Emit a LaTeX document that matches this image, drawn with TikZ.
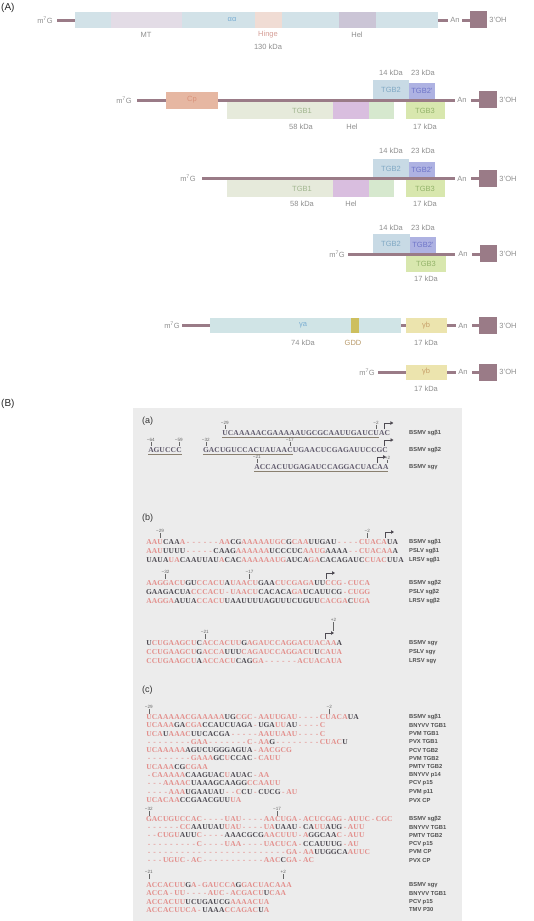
\documentclass[tikz,border=0pt]{standalone}
\usepackage{fontspec}
\setmainfont{Liberation Sans}
\newfontfamily\seqfont{Liberation Serif}
\usetikzlibrary{arrows.meta}
\definecolor{lineC}{HTML}{9A7B87}
\definecolor{barC}{HTML}{D2E2E8}
\definecolor{mtC}{HTML}{E3DCE6}
\definecolor{hingeC}{HTML}{F0DCD4}
\definecolor{helA}{HTML}{CBC5D6}
\definecolor{cpC}{HTML}{E6B7A2}
\definecolor{tgbaC}{HTML}{E6EADB}
\definecolor{helB}{HTML}{D9BEDF}
\definecolor{tgbgC}{HTML}{D6E8CE}
\definecolor{tgbbC}{HTML}{C8DAE5}
\definecolor{tgbpC}{HTML}{AEB2E2}
\definecolor{tgbcC}{HTML}{D8E7AE}
\definecolor{gaC}{HTML}{D0E4E6}
\definecolor{gddC}{HTML}{CDBF5E}
\definecolor{gbC}{HTML}{ECE4AE}
\definecolor{txtA}{HTML}{8E8E8E}
\definecolor{hingeT}{HTML}{D49C94}
\definecolor{aaT}{HTML}{7AAED3}
\definecolor{cpT}{HTML}{D9927A}
\definecolor{tgbbT}{HTML}{7FA8C4}
\definecolor{tgbpT}{HTML}{6E74C8}
\definecolor{tgbaT}{HTML}{A0B58E}
\definecolor{tgbcT}{HTML}{93B36A}
\definecolor{gbT}{HTML}{C8A06A}
\definecolor{gddT}{HTML}{B89A6A}
\definecolor{panelC}{HTML}{ECECEC}
\definecolor{pk}{HTML}{E38F8C}
\definecolor{sqd}{HTML}{4E4A52}
\definecolor{sqa}{HTML}{605A6C}
\definecolor{nmC}{HTML}{505050}
\definecolor{tkC}{HTML}{666666}
\definecolor{ulC}{HTML}{8A8070}
\newlength\cw
\setlength\cw{5.6pt}
\def\dkc{sqd}
\def\sqcolr#1{\ifx-#1\textcolor{pk}{-}\else\ifnum`#1>`Z\relax\textcolor{pk}{\uppercase{#1}}\else\textcolor{\dkc}{#1}\fi\fi}
\def\sqloop#1{\ifx\relax#1\else\makebox[\cw][c]{\sqcolr{#1}}\expandafter\sqloop\fi}
\newcommand\seqtext[1]{{\seqfont\bfseries\fontsize{7.5}{8}\selectfont\sqloop#1\relax}}
\newcommand\tkmark[5]{% name, x, ylabel, text, line length
  \node[tkl] (#1) at (#2,#3) {#4};
  \draw[tkline] (#1.south) -- ++(0,#5);}
\newcommand\bentarrow[3]{% name, x, ytext
  \coordinate (#1a) at (#2,#3-4);
  \coordinate (#1b) at (#2,#3-10);
  \coordinate (#1c) at (#2+9,#3-10);
  \draw[barrow] (#1a) -- (#1b) -- (#1c);}
\begin{document}
\begin{tikzpicture}[x=1pt,y=-1pt,
  lbl/.style={font=\fontsize{7.5}{8}\selectfont, text=txtA, inner sep=0pt},
  rna/.style={line width=3pt, draw=lineC},
  seqn/.style={anchor=west, inner sep=0pt},
  vname/.style={anchor=west, inner sep=0pt, font=\bfseries\fontsize{5.8}{6}\selectfont, text=nmC},
  tkl/.style={inner sep=0.3pt, font=\fontsize{4.6}{5}\selectfont, text=tkC},
  tkline/.style={draw=tkC, line width=0.4pt},
  barrow/.style={draw=sqd, line width=0.8pt, -{Triangle[length=3pt,width=3.4pt]}},
  sublbl/.style={font=\fontsize{9}{10}\selectfont, text=black!80, inner sep=0pt, anchor=west},
  biglbl/.style={font=\fontsize{10}{11}\selectfont, text=black!85, inner sep=0pt, anchor=west}
]
\useasboundingbox (0,0) rectangle (533,921);
\node[biglbl] (A) at (1,8) {(A)};
% ---------- row 1
\node[lbl] (m1) at (45,20) {m\textsuperscript{7}G};
\draw[rna] (57,20) -- (75,20);
\fill[barC] (75,12) rectangle (438,28);
\fill[mtC] (111,12) rectangle (182,28);
\fill[hingeC] (255,12) rectangle (282,28);
\fill[helA] (339,12) rectangle (376,28);
\node[lbl,text=aaT] (aa1) at (232,20) {αα};
\draw[rna] (438,20) -- (448,20);
\node[lbl] (an1) at (455,20) {An};
\draw[rna] (462,20) -- (470,20);
\fill[lineC] (470,11) rectangle (487,28);
\node[lbl] (oh1) at (498,20) {3'OH};
\node[lbl] (mt1) at (146,35) {MT};
\node[lbl,text=hingeT] (hg1) at (268,35) {Hinge};
\node[lbl] (kd1) at (268,47) {130 kDa};
\node[lbl] (hl1) at (357,35) {Hel};
% ---------- row 2
\node[lbl] (k14b) at (391,73) {14 kDa};
\node[lbl] (k23b) at (423,73) {23 kDa};
\node[lbl] (m2) at (124,100) {m\textsuperscript{7}G};
\draw[rna] (137,100) -- (455,100);
\fill[tgbbC] (373,80) rectangle (409,98.5);
\fill[tgbpC] (409,83) rectangle (435,98.5);
\fill[cpC] (166,92) rectangle (218,109);
\fill[tgbaC] (227,101.5) rectangle (333,119);
\fill[helB] (333,101.5) rectangle (369,119);
\fill[tgbgC] (369,101.5) rectangle (394,119);
\fill[tgbcC] (406,101.5) rectangle (445,119);
\node[lbl,text=cpT] (cp2) at (192,100) {Cp};
\node[lbl,text=tgbbT] (t2b) at (391,90) {TGB2};
\node[lbl,text=tgbpT] (t2p) at (422,91) {TGB2'};
\node[lbl,text=tgbaT] (t1b) at (302,110.5) {TGB1};
\node[lbl,text=tgbcT] (t3b) at (425,110.5) {TGB3};
\node[lbl] (k58b) at (301,127) {58 kDa};
\node[lbl] (hl2) at (352,127) {Hel};
\node[lbl] (k17b) at (425,127) {17 kDa};
\node[lbl] (an2) at (462,100) {An};
\draw[rna] (471,100) -- (479,100);
\fill[lineC] (479,91) rectangle (497,108);
\node[lbl] (oh2) at (508,100) {3'OH};
% ---------- row 3
\node[lbl] (k14c) at (391,151) {14 kDa};
\node[lbl] (k23c) at (423,151) {23 kDa};
\node[lbl] (m3) at (188,178.5) {m\textsuperscript{7}G};
\draw[rna] (202,178.5) -- (455,178.5);
\fill[tgbbC] (373,159) rectangle (409,177);
\fill[tgbpC] (409,162) rectangle (435,177);
\fill[tgbaC] (227,180) rectangle (333,197);
\fill[helB] (333,180) rectangle (369,197);
\fill[tgbgC] (369,180) rectangle (394,197);
\fill[tgbcC] (406,180) rectangle (445,197);
\node[lbl,text=tgbbT] (t2c) at (391,168.5) {TGB2};
\node[lbl,text=tgbpT] (t2pc) at (422,169.5) {TGB2'};
\node[lbl,text=tgbaT] (t1c) at (302,189) {TGB1};
\node[lbl,text=tgbcT] (t3c) at (425,189) {TGB3};
\node[lbl] (k58c) at (302,204) {58 kDa};
\node[lbl] (hl3) at (351,204) {Hel};
\node[lbl] (k17c) at (425,204) {17 kDa};
\node[lbl] (an3) at (462,178.5) {An};
\draw[rna] (471,178.5) -- (479,178.5);
\fill[lineC] (479,169.5) rectangle (497,187);
\node[lbl] (oh3) at (508,178.5) {3'OH};
% ---------- row 4
\node[lbl] (k14d) at (391,228) {14 kDa};
\node[lbl] (k23d) at (423,228) {23 kDa};
\fill[tgbbC] (373,234) rectangle (410,252.5);
\fill[tgbpC] (410,237) rectangle (436,252.5);
\node[lbl] (m4) at (337,254.5) {m\textsuperscript{7}G};
\draw[rna] (348,254) -- (455,254);
\fill[tgbcC] (406,255.5) rectangle (446,272);
\node[lbl,text=tgbbT] (t2d) at (391,244) {TGB2};
\node[lbl,text=tgbpT] (t2pd) at (423,245) {TGB2'};
\node[lbl,text=tgbcT] (t3d) at (426,263.5) {TGB3};
\node[lbl] (k17d) at (426,279) {17 kDa};
\node[lbl] (an4) at (463,254) {An};
\draw[rna] (472,254) -- (480,254);
\fill[lineC] (480,245) rectangle (497,262);
\node[lbl] (oh4) at (508,254) {3'OH};
% ---------- row 5
\node[lbl] (m5) at (172,325.5) {m\textsuperscript{7}G};
\draw[rna] (182,325.5) -- (456,325.5);
\fill[gaC] (210,318) rectangle (401,333);
\fill[gddC] (351,318) rectangle (359,333);
\fill[gbC] (406,318) rectangle (447,333);
\node[lbl,text=aaT] (ga5) at (303,325.5) {γa};
\node[lbl,text=gbT] (gb5) at (426,325.5) {γb};
\node[lbl] (k74) at (303,343) {74 kDa};
\node[lbl,text=gddT] (gdd) at (353,343) {GDD};
\node[lbl] (k17e) at (426,343) {17 kDa};
\node[lbl] (an5) at (463,325.5) {An};
\draw[rna] (472,325.5) -- (479,325.5);
\fill[lineC] (479,316.5) rectangle (497,333.5);
\node[lbl] (oh5) at (508,325.5) {3'OH};
% ---------- row 6
\node[lbl] (m6) at (367,372) {m\textsuperscript{7}G};
\draw[rna] (378,372) -- (456,372);
\fill[gbC] (406,365) rectangle (447,380);
\node[lbl,text=gbT] (gb6) at (426,372) {γb};
\node[lbl] (k17f) at (426,389) {17 kDa};
\node[lbl] (an6) at (463,372) {An};
\draw[rna] (472,372) -- (479,372);
\fill[lineC] (479,363.5) rectangle (497,380.5);
\node[lbl] (oh6) at (508,372) {3'OH};
% =================== (B)
\node[biglbl] (B) at (1,404) {(B)};
\fill[panelC] (133,408) rectangle (462,921);
% ----- (a)
\node[sublbl] (sa) at (142,421) {(a)};
\node[seqn] (a1) at (222,433) {\def\dkc{sqa}\seqtext{UCAAAAACGAAAAAUGCGCAAUUGAUCUAC}};
\draw[ulC,line width=0.8pt] (222,437.5) -- (378.8,437.5);
\tkmark{ta1}{224.8}{423}{−29}{4}
\tkmark{ta2}{376}{423}{−2}{4}
\bentarrow{ba1}{384.4}{433}
\node[vname] (na1) at (409,433) {BSMV sgβ1};
\node[seqn] (a2a) at (148,450) {\def\dkc{sqa}\seqtext{AGUCCC}};
\node[seqn] (a2b) at (203,450) {\def\dkc{sqa}\seqtext{GACUGUCCACUAUAACUGAACUCGAGAUUCCGC}};
\draw[ulC,line width=0.8pt] (148,454.5) -- (181.6,454.5);
\draw[ulC,line width=0.8pt] (203,454.5) -- (292.6,454.5);
\tkmark{ta3}{150.8}{440}{−64}{4}
\tkmark{ta4}{178.8}{440}{−59}{4}
\tkmark{ta5}{205.8}{440}{−32}{4}
\tkmark{ta6}{289.8}{440}{−17}{4}
\bentarrow{ba2}{384.5}{450}
\node[vname] (na2) at (409,450) {BSMV sgβ2};
\node[seqn] (a3) at (254,467) {\def\dkc{sqa}\seqtext{ACCACUUGAGAUCCAGGACUACAA}};
\draw[ulC,line width=0.8pt] (254,471.5) -- (388.4,471.5);
\tkmark{ta7}{256.8}{457}{−21}{4}
\tkmark{ta8}{387.5}{457.5}{+2}{3.5}
\bentarrow{ba3}{377.2}{467}
\node[vname] (na3) at (409,467) {BSMV sgγ};
% ----- (b)
\node[sublbl] (sb) at (142,518) {(b)};
\tkmark{tb1}{160}{531}{−29}{4.5}
\tkmark{tb2}{367.2}{531}{−2}{4.5}
\bentarrow{bb1}{385}{542}
\node[seqn] (b1) at (146,542) {\seqtext{aauCAAa------aaCGaaaaaugcGcaaUUGAU----cuacaUA}};
\node[seqn] (b2) at (146,551) {\seqtext{aauUUUU-----CAAGaaaaaaUCCCUCaaugAAAA--cuacaaA}};
\node[seqn] (b3) at (146,560) {\seqtext{UAUAuaCAAUUAUaCACaaaaaaugAUCAgaCACAGAUCcuacUUA}};
\node[vname] (nb1) at (409,542) {BSMV sgβ1};
\node[vname] (nb2) at (409,551) {PSLV sgβ1};
\node[vname] (nb3) at (409,560) {LRSV sgβ1};
\tkmark{tb3}{165.6}{572}{−32}{4.5}
\tkmark{tb4}{249.6}{572}{−17}{4.5}
\bentarrow{bb2}{326}{583}
\node[seqn] (b4) at (146,583) {\seqtext{aaggacuGUccacuAuaacuGAAcucgagaUUccg-cuca}};
\node[seqn] (b5) at (146,592) {\seqtext{GAAGACUAcccacu-uaacuCACACAgaUCAUUCG-cugg}};
\node[seqn] (b6) at (146,601) {\seqtext{aaggaAUUAccacuUAAUUUUAGUUUCUGUUcacgaCuga}};
\node[vname] (nb4) at (409,583) {BSMV sgβ2};
\node[vname] (nb5) at (409,592) {PSLV sgβ2};
\node[vname] (nb6) at (409,601) {LRSV sgβ2};
\tkmark{tb5}{204.8}{632}{−21}{4.5}
\tkmark{tb6}{333.5}{620}{+2}{9}
\bentarrow{bb3}{325}{643}
\node[seqn] (b7) at (146,643) {\seqtext{UcugaagcuCaccacuuGagauccaggacuacaaA}};
\node[seqn] (b8) at (146,652) {\seqtext{ccugaagcuGaccaUUUcagauccaggacuUcaua}};
\node[seqn] (b9) at (146,661) {\seqtext{ccugaagcuAaccacuCAGga------acuacaua}};
\node[vname] (nb7) at (409,643) {BSMV sgγ};
\node[vname] (nb8) at (409,652) {PSLV sgγ};
\node[vname] (nb9) at (409,661) {LRSV sgγ};
% ----- (c)
\node[sublbl] (sc) at (142,690) {(c)};
\tkmark{tc1}{148.8}{707}{−29}{4.5}
\tkmark{tc2}{329.2}{707}{−2}{4.5}
\foreach \s/\n [count=\i from 0] in {
  ucaaaaacgaaaaaUGcgc-aauugau----cuacaUA/BSMV sgβ1,
  ucaaaGAcgaCCAUCUAGA-UGAuuAU----c/BNYVV TGB1,
  ucaUaaacUUCACGA-----aauuaau----c/PVM TGB1,
  --------gaa-------c-aaG--------cuacU/PVX TGB1,
  ucaaaaaAGUCUGGGAGUA-aacgcg/PCV TGB2,
  --------gaaaGCuCCAC-cauu/PVM TGB2,
  ucaaaCGcgaa/PMTV TGB2,
  -caaaaaCAAGUACuAUAC-aa/BNYVV p14,
  ---aaaacUAAAGCAAGGccaauu/PCV p15,
  ----aaaUGAAUAU--cCU-CUCG-au/PVM p11,
  ucacaaCCGAACGUUua/PVX CP}{
  \node[seqn] (c1-\i) at (146,717+8.3*\i) {\expandafter\seqtext\expandafter{\s}};
  \node[vname] (nc1-\i) at (409,717+8.3*\i) {\n};
}
\tkmark{tc3}{148.8}{809}{−32}{4.5}
\tkmark{tc4}{277}{809}{−17}{4.5}
\foreach \s/\n [count=\i from 0] in {
  gacuguccac----uau----aacuga-acucgag-auuc-cgc/BSMV sgβ2,
  ------ccAAUUAUuau----uaUAAU-CAuuAUG-auu/BNYVV TGB1,
  --cuguAUUc----AAACGCGaacuuu-aGGCAAc-auu/PMTV TGB2,
  ---------c----uaa----uacuca-CCAUUUG-au/PCV p15,
  -------------------------ga-aaUUGGCAauuc/PVM CP,
  ---uguc-ac-----------aacCga-ac/PVX CP}{
  \node[seqn] (c2-\i) at (146,819+8.2*\i) {\expandafter\seqtext\expandafter{\s}};
  \node[vname] (nc2-\i) at (409,819+8.2*\i) {\n};
}
\tkmark{tc5}{148.8}{872}{−21}{5}
\tkmark{tc6}{283.2}{872}{+2}{5}
\foreach \s/\n [count=\i from 0] in {
  accacuuGa-gauccaGgacuacaaa/BSMV sgγ,
  acca-uu----auc-acgacuUcaa/BNYVV TGB1,
  accacuuUCUGAUCGaaaacua/PCV p15,
  accacuuca-UAAAccagacUa/TMV P30}{
  \node[seqn] (c3-\i) at (146,885+8.3*\i) {\expandafter\seqtext\expandafter{\s}};
  \node[vname] (nc3-\i) at (409,885+8.3*\i) {\n};
}
\end{tikzpicture}
\end{document}
